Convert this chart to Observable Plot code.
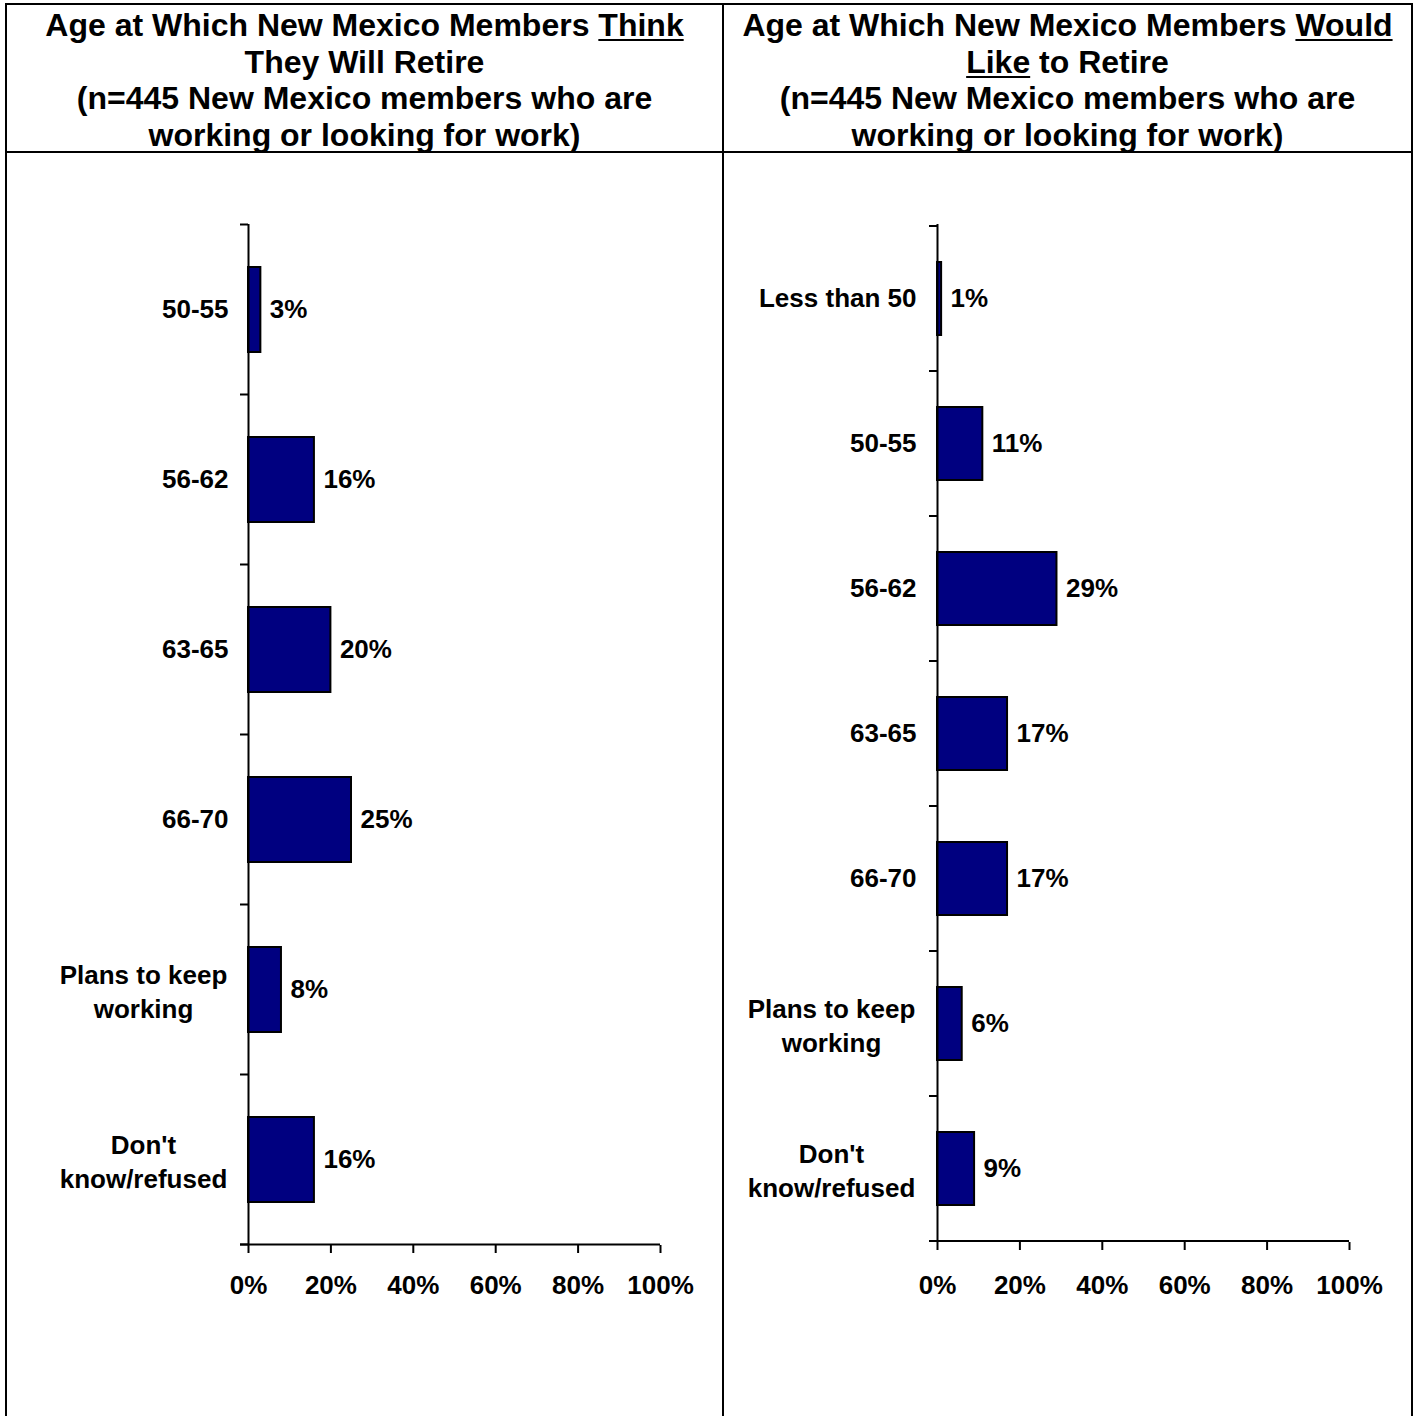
<!DOCTYPE html>
<html>
<head>
<meta charset="utf-8">
<script src="https://cdn.jsdelivr.net/npm/d3@7"></script>
<script src="https://cdn.jsdelivr.net/npm/@observablehq/plot@0.6"></script>
<style>
  html, body { margin: 0; padding: 0; background: #fff; }
  #page { position: relative; width: 1418px; height: 1416px; overflow: hidden; background: #fff;
          font-family: "Liberation Sans", Arial, Helvetica, sans-serif; color: #000; }
  .line { position: absolute; background: #000; }
  .head { position: absolute; top: 5px; height: 146px; font-size: 32px; font-weight: bold;
          line-height: 36.5px; text-align: center; padding-top: 2px; box-sizing: border-box; }
  .chart { position: absolute; top: 153px; }
  .head u { text-decoration-thickness: 2px; text-underline-offset: 3px; }
</style>
</head>
<body>
<div id="page">
  <div class="line" style="left:5px;top:3px;width:1408px;height:2px"></div>
  <div class="line" style="left:5px;top:3px;width:2px;height:1413px"></div>
  <div class="line" style="left:1411px;top:3px;width:2px;height:1413px"></div>
  <div class="line" style="left:722px;top:3px;width:2px;height:1413px"></div>
  <div class="line" style="left:5px;top:151px;width:1408px;height:2px"></div>
  <div class="head" style="left:7px;width:715px">Age at Which New Mexico Members <u>Think</u><br>They Will Retire<br>(n=445 New Mexico members who are<br>working or looking for work)</div>
  <div class="head" style="left:724px;width:687px">Age at Which New Mexico Members <u>Would</u><br><u>Like</u> to Retire<br>(n=445 New Mexico members who are<br>working or looking for work)</div>
  <div class="chart" id="left" style="left:7px"></div>
  <div class="chart" id="right" style="left:724px"></div>
</div>
<script>
// ---- data ----
const thinkCategories = ["50-55", "56-62", "63-65", "66-70", "Plans to keep\nworking", "Don't\nknow/refused"];
const thinkValues = [3, 16, 20, 25, 8, 16];
const likeCategories = ["Less than 50", "50-55", "56-62", "63-65", "66-70", "Plans to keep\nworking", "Don't\nknow/refused"];
const likeValues = [1, 11, 29, 17, 17, 6, 9];
const xTicks = [0, 20, 40, 60, 80, 100];

const font = '"Liberation Sans", Arial, Helvetica, sans-serif';

function makeChart(cats, vals, opts) {
  const data = cats.map((c, i) => ({cat: c, value: vals[i]}));
  const chart = Plot.plot({
    width: opts.width,
    height: 1263,
    marginLeft: opts.marginLeft,
    marginRight: opts.marginRight,
    marginTop: 71,
    marginBottom: opts.marginBottom,
    style: {fontFamily: font, fontSize: "26px", fontWeight: "bold", color: "#000", background: "transparent", overflow: "visible"},
    x: {domain: [0, 100], label: null},
    y: {domain: cats, paddingInner: 0.5, paddingOuter: 0.25, align: 0.5, axis: null, label: null},
    marks: [
      Plot.barX(data, {x: "value", y: "cat", fill: "#000080", stroke: "#000", strokeWidth: 2}),
      Plot.ruleX([0], {stroke: "#000", strokeWidth: 2}),
      Plot.axisX({ticks: xTicks, tickFormat: d => d + "%", tickSize: 8, tickPadding: opts.tickPadding, strokeWidth: 2, fontSize: 26, fontWeight: "bold", label: null}),
      Plot.text(data.filter(d => !d.cat.includes("\n")), {x: 0, y: "cat", text: "cat", textAnchor: "end", dx: opts.labelDx, fontSize: 26, fontWeight: "bold"}),
      Plot.text(data.filter(d => d.cat.includes("\n")), {x: 0, y: "cat", text: "cat", textAnchor: "middle", lineAnchor: "middle", lineHeight: 1.3, dx: opts.multiDx, fontSize: 26, fontWeight: "bold"}),
      Plot.text(data, {x: "value", y: "cat", text: d => d.value + "%", textAnchor: "start", dx: 9, fontSize: 26, fontWeight: "bold"})
    ]
  });
  // category boundary ticks and x-axis baseline, from the plot's own scales
  const ys = chart.scale("y");
  const xs = chart.scale("x");
  const x0 = xs.apply(0), x1 = xs.apply(100);
  const gap = (ys.step - ys.bandwidth) / 2;
  const bounds = cats.map(c => ys.apply(c) - gap);
  bounds.push(ys.apply(cats[cats.length - 1]) + ys.bandwidth + gap);
  const g = d3.select(chart).append("g").attr("stroke", "#000").attr("stroke-width", 2);
  bounds.forEach(b => g.append("line").attr("x1", x0 - 8).attr("x2", x0).attr("y1", b).attr("y2", b));
  g.append("line").attr("x1", x0 - 8).attr("x2", x1).attr("y1", bounds[bounds.length - 1]).attr("y2", bounds[bounds.length - 1]);
  return chart;
}

document.getElementById("left").appendChild(makeChart(thinkCategories, thinkValues, {
  width: 715, marginLeft: 241, marginRight: 62, marginBottom: 171, labelDx: -20, multiDx: -105, tickPadding: 22
}));
document.getElementById("right").appendChild(makeChart(likeCategories, likeValues, {
  width: 687, marginLeft: 213, marginRight: 62, marginBottom: 174, labelDx: -21, multiDx: -106, tickPadding: 25
}));
</script>
</body>
</html>
